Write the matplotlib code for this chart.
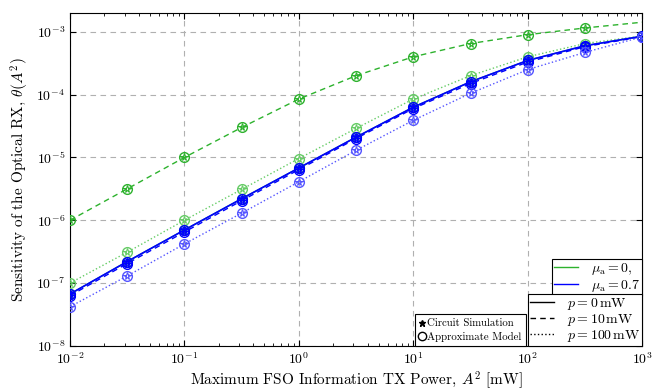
import numpy as np
import matplotlib
matplotlib.use("Agg")
import matplotlib.pyplot as plt
from matplotlib.lines import Line2D

plt.rcParams['font.family'] = 'serif'
plt.rcParams['font.serif'] = ['cmr10', 'DejaVu Serif']
plt.rcParams['mathtext.fontset'] = 'cm'
plt.rcParams['axes.formatter.use_mathtext'] = True
plt.rcParams['axes.unicode_minus'] = False

A2 = [1e-2, 10**-1.5, 1e-1, 10**-0.5, 1e0, 10**0.5, 1e1, 10**1.5, 1e2, 10**2.5, 1e3]

green_p0 = [6.7e-8, 2.2e-7, 7.0e-7, 2.2e-6, 6.8e-6, 2.1e-5, 6.3e-5, 1.6e-4, 3.5e-4, 6.0e-4, 8.5e-4]
green_p10 = [1.0e-6, 3.16e-6, 1.0e-5, 3.0e-5, 8.5e-5, 2.0e-4, 4.0e-4, 6.5e-4, 9.0e-4, 1.15e-3, 1.42e-3]
green_p100 = [1.0e-7, 3.1e-7, 1.0e-6, 3.1e-6, 9.6e-6, 2.9e-5, 8.5e-5, 2.0e-4, 4.0e-4, 6.5e-4, 8.6e-4]
blue_p0 = [6.7e-8, 2.2e-7, 7.0e-7, 2.2e-6, 6.8e-6, 2.1e-5, 6.3e-5, 1.6e-4, 3.5e-4, 6.0e-4, 8.5e-4]
blue_p10 = [6.3e-8, 2.05e-7, 6.5e-7, 2.05e-6, 6.4e-6, 2.0e-5, 6.0e-5, 1.5e-4, 3.3e-4, 5.8e-4, 8.4e-4]
blue_p100 = [4.2e-8, 1.3e-7, 4.2e-7, 1.3e-6, 4.1e-6, 1.3e-5, 3.9e-5, 1.05e-4, 2.5e-4, 4.7e-4, 8.3e-4]

GREEN = '#2db22d'
BLUE = '#0000ff'

fig = plt.figure(figsize=(6.6, 3.9), dpi=100)
ax = fig.add_axes([0.106, 0.113, 0.867, 0.854])

series = [
    (green_p0, GREEN, '-', 1.0, 11),
    (green_p10, GREEN, (0, (4, 3)), 1.0, 10),
    (green_p100, '#66cc66', ':', 1.0, 11),
    (blue_p0, BLUE, '-', 1.2, 11),
    (blue_p10, BLUE, (0, (4, 3)), 1.0, 11),
    (blue_p100, '#5555ff', ':', 1.0, 11),
]
for y, c, ls, lw, nm in series:
    ax.plot(A2, y, color=c, ls=ls, lw=lw, zorder=3)
    ax.plot(A2[:nm], y[:nm], ls='none', marker='o', ms=7, mfc='none', mec=c, mew=1.0, zorder=4)
    ax.plot(A2[:nm], y[:nm], ls='none', marker='*', ms=5.5, mfc='none', mec=c, mew=0.8, zorder=4)

ax.set_xscale('log')
ax.set_yscale('log')
ax.set_xlim(1e-2, 1e3)
ax.set_ylim(1e-8, 2e-3)
ax.set_yticks([1e-8, 1e-7, 1e-6, 1e-5, 1e-4, 1e-3])
ax.yaxis.set_minor_locator(matplotlib.ticker.NullLocator())
ax.grid(True, which='major', ls=(0, (5, 4)), color='#b0b0b0', lw=0.8)
ax.tick_params(which='both', direction='in', top=True, right=True, labelsize=10)
ax.tick_params(which='major', length=4)
ax.tick_params(which='minor', length=2)

ax.set_xlabel(r'Maximum FSO Information TX Power, $A^2$ [mW]', fontsize=11, labelpad=2)
ax.set_ylabel(r'Sensitivity of the Optical RX, $\theta(A^2)$', fontsize=11)

common = dict(fancybox=False, edgecolor='black', framealpha=1, borderaxespad=0)

h1 = [Line2D([], [], color=GREEN, lw=1), Line2D([], [], color=BLUE, lw=1)]
leg1 = ax.legend(h1, [r'$\mu_{\mathrm{a}}=0,$', r'$\mu_{\mathrm{a}}=0.7$'],
                 loc='lower right', bbox_to_anchor=(1.0, 0.151), fontsize=10,
                 borderpad=0.15, handlelength=1.75, handletextpad=0.9,
                 labelspacing=0.05, **common)
leg1.get_frame().set_linewidth(0.8)
ax.add_artist(leg1)

h2 = [Line2D([], [], color='k', lw=1, ls='-'), Line2D([], [], color='k', lw=1, ls=(0, (4, 3))),
      Line2D([], [], color='k', lw=1, ls=':')]
leg2 = ax.legend(h2, [r'$p=0\,\mathrm{mW}$', r'$p=10\,\mathrm{mW}$', r'$p=100\,\mathrm{mW}$'],
                 loc='lower right', bbox_to_anchor=(1.0, 0.0), fontsize=10,
                 borderpad=0.15, handlelength=1.75, handletextpad=0.9,
                 labelspacing=0.0, **common)
leg2.get_frame().set_linewidth(0.8)
ax.add_artist(leg2)

h3 = [Line2D([], [], ls='none', marker='*', ms=5, color='k'),
      Line2D([], [], ls='none', marker='o', ms=6, mfc='none', mec='k')]
leg3 = ax.legend(h3, ['Circuit Simulation', 'Approximate Model'],
                 loc='lower right', bbox_to_anchor=(0.797, 0.0), fontsize=7.8,
                 borderpad=0.4, handlelength=0.5, handletextpad=0.25,
                 labelspacing=0.3, borderaxespad=0,
                 fancybox=False, edgecolor='black', framealpha=1)
leg3.get_frame().set_linewidth(0.8)

fig.savefig('out.png', dpi=100)
